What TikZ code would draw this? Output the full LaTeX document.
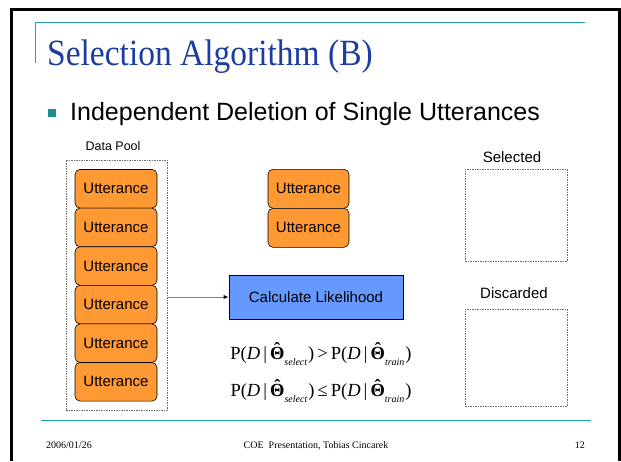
\documentclass[tikz,border=0pt]{standalone}
\usepackage{fontspec}
\usepackage{graphicx}
\setmainfont{Liberation Serif}
\newfontfamily\arialfont{Liberation Sans}
\usetikzlibrary{arrows.meta}

\definecolor{slideteal}{RGB}{32,168,168}
\definecolor{titleblue}{RGB}{28,60,160}
\definecolor{uttorange}{RGB}{255,153,51}
\definecolor{calcblue}{RGB}{102,153,255}
\definecolor{poolgray}{RGB}{110,110,110}

% hat over a bold capital Theta
\newcommand{\hatTh}{{\ooalign{\textbf{Θ}\cr\hidewidth\smash{\raisebox{0.22em}{\textbf{ˆ}}}\hidewidth\cr}}}
\newcommand{\lowsub}[1]{\raisebox{-0.3em}{\fontsize{10}{10}\selectfont\itshape #1\kern1pt}}
\newcommand{\likel}[1]{P(\textit{D}\,|\,\hatTh\lowsub{#1})}

\begin{document}
\begin{tikzpicture}[x=1pt,y=-1pt,
  utt/.style={draw=black,fill=uttorange,rounded corners=5pt,line width=0.6pt,
    minimum width=82pt,minimum height=38.6pt,inner sep=0pt,
    font=\arialfont\fontsize{15}{15}\selectfont},
  dashbox/.style={draw=poolgray,dash pattern=on 1.5pt off 1pt,line width=0.6pt,
    inner sep=0pt},
  lbl/.style={font=\arialfont\fontsize{15}{15}\selectfont,inner sep=0pt},
  eq/.style={font=\fontsize{18.5}{18.5}\selectfont,inner sep=0pt},
  foot/.style={font=\fontsize{10}{10}\selectfont,inner sep=0pt}]

\useasboundingbox (0,0) rectangle (621,461);
\fill[white] (0,0) rectangle (621,461);

% slide frame
\draw[black,line width=3pt] (11.5,461) -- (11.5,9.5) -- (619.5,9.5) -- (619.5,461);

% title rules
\draw[slideteal,line width=1.4pt] (35.5,63) -- (35.5,22.7) -- (585,22.7);
\draw[slideteal,line width=1.4pt] (41,420.7) -- (591,420.7);

% title and bullet
\node[anchor=base west,inner sep=0pt,text=titleblue,font=\fontsize{37}{37}\selectfont]
  (title) at (47,65) {\scalebox{0.905}[1]{Selection Algorithm (B)}};
\node[fill=slideteal!85!black,minimum size=7.5pt,inner sep=0pt] (bullet) at (52,113) {};
\node[anchor=base west,inner sep=0pt,font=\arialfont\fontsize{25}{25}\selectfont]
  (point) at (70,120) {Independent Deletion of Single Utterances};

% data pool
\node[lbl,font=\arialfont\fontsize{12.5}{12.5}\selectfont] (poollbl) at (113,146) {Data Pool};
\node[dashbox,minimum width=101pt,minimum height=250pt] (pool) at (116.5,285) {};
\foreach \i/\y in {1/188.8,2/227.4,3/266.0,4/304.6,5/343.2,6/381.8}
  \node[utt] (u\i) at (116,\y) {Utterance};

% utterances under test
\node[utt,minimum width=81pt,minimum height=39pt] (m1) at (308.5,188.8) {Utterance};
\node[utt,minimum width=81pt,minimum height=39pt] (m2) at (308.5,227.8) {Utterance};

% likelihood computation
\node[draw=black,fill=calcblue,line width=0.6pt,minimum width=174pt,minimum height=44pt,
  inner sep=0pt,font=\arialfont\fontsize{15}{15}\selectfont] (calc) at (316,297) {Calculate Likelihood};
\draw[gray,line width=0.8pt,-{Latex[black,length=5pt,width=4pt]}] (pool.east |- calc.west) -- (calc.west);

% decision rules
\node[eq] (rule1) at (321,356) {\likel{select}\,>\,\likel{train}};
\node[eq] (rule2) at (321,393) {\likel{select}\,≤\,\likel{train}};

% result sets
\node[lbl] (sellbl) at (512,157) {Selected};
\node[dashbox,minimum width=102pt,minimum height=92pt] (sel) at (516,215) {};
\node[lbl] (dislbl) at (514,293) {Discarded};
\node[dashbox,minimum width=102pt,minimum height=97pt] (dis) at (516,357.5) {};

% footer
\node[foot,anchor=base west] (date) at (46,448) {2006/01/26};
\node[foot,anchor=base] (event) at (316,448) {COE\ \ Presentation, Tobias Cincarek};
\node[foot,anchor=base east] (page) at (585,448) {12};
\end{tikzpicture}
\end{document}
